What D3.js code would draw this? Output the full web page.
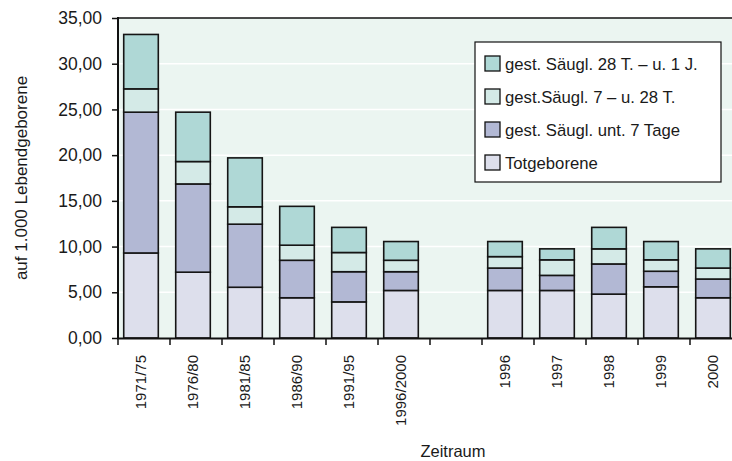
<!DOCTYPE html>
<html>
<head>
<meta charset="utf-8">
<script src="https://cdn.jsdelivr.net/npm/d3@7"></script>
<style>
  html, body { margin: 0; padding: 0; background: #ffffff; }
  svg { display: block; }
  text { font-family: "Liberation Sans", Arial, sans-serif; fill: #1a1a1a; }
</style>
</head>
<body>
<svg id="chart" width="732" height="461"></svg>
<script>
// ---- Data ----
const categories = ["1971/75", "1976/80", "1981/85", "1986/90", "1991/95", "1996/2000", "", "1996", "1997", "1998", "1999", "2000"];
const totgeborene   = [9.3, 7.2, 5.55, 4.4, 3.95, 5.2, null, 5.2, 5.2, 4.8, 5.6, 4.4];
const unter7Tage    = [15.4, 9.65, 6.9, 4.1, 3.3, 2.05, null, 2.45, 1.65, 3.3, 1.7, 2.05];
const tage7bis28    = [2.55, 2.45, 1.9, 1.65, 2.1, 1.25, null, 1.25, 1.7, 1.65, 1.25, 1.2];
const tage28bis1J   = [5.95, 5.4, 5.35, 4.25, 2.75, 2.05, null, 1.65, 1.2, 2.35, 2.0, 2.1];
const seriesNames   = ["Totgeborene", "gest. Säugl. unt. 7 Tage", "gest.Säugl. 7 – u. 28 T.", "gest. Säugl. 28 T. – u. 1 J."];
const seriesColors  = ["#dddfec", "#b2b8d4", "#d4eae7", "#afd8d6"];
const yTicks        = [0, 5, 10, 15, 20, 25, 30, 35];
const yTitle = "auf 1.000 Lebendgeborene";
const xTitle = "Zeitraum";

// ---- Build table ----
const keys = ["s0", "s1", "s2", "s3"];
const seriesData = [totgeborene, unter7Tage, tage7bis28, tage28bis1J];
const catKeys = categories.map((c, i) => c === "" ? "__gap" + i : c);
const table = catKeys.map((k, i) => {
  const row = { cat: k, label: categories[i], empty: totgeborene[i] == null };
  keys.forEach((s, j) => row[s] = seriesData[j][i] == null ? 0 : seriesData[j][i]);
  return row;
});
const stacked = d3.stack().keys(keys)(table);

// ---- Layout ----
const svg = d3.select("#chart");
const pLeft = 118, pRight = 742, pTop = 18, pBottom = 338;

const x = d3.scaleBand().domain(catKeys).range([pLeft, pRight]).padding(0);
const y = d3.scaleLinear().domain([0, 35]).range([pBottom, pTop]);
const bw = x.bandwidth();
const barOff = bw * 0.11, barW = bw * 0.665;

// plot background
svg.append("rect")
  .attr("x", pLeft).attr("y", pTop)
  .attr("width", pRight - pLeft).attr("height", pBottom - pTop)
  .attr("fill", "#ebf5f1");

// gridlines
svg.append("g").selectAll("line")
  .data(yTicks.filter(d => d > 0 && d < 35))
  .join("line")
  .attr("x1", pLeft).attr("x2", pRight)
  .attr("y1", d => y(d)).attr("y2", d => y(d))
  .attr("stroke", "#ffffff").attr("stroke-width", 1.5);

// top border
svg.append("line")
  .attr("x1", pLeft).attr("x2", pRight)
  .attr("y1", y(35)).attr("y2", y(35))
  .attr("stroke", "#111").attr("stroke-width", 1.5);

// bars
const gBars = svg.append("g");
stacked.forEach((layer, li) => {
  gBars.append("g").selectAll("rect")
    .data(layer.filter(d => !d.data.empty))
    .join("rect")
    .attr("x", d => x(d.data.cat) + barOff)
    .attr("width", barW)
    .attr("y", d => y(d[1]))
    .attr("height", d => y(d[0]) - y(d[1]))
    .attr("fill", seriesColors[li])
    .attr("stroke", "#151515")
    .attr("stroke-width", 1.6);
});

// y axis
const yAxis = d3.axisLeft(y)
  .tickValues(yTicks)
  .tickSize(6)
  .tickPadding(10)
  .tickFormat(d => d.toFixed(2).replace(".", ","));
const gy = svg.append("g").attr("transform", `translate(${pLeft},0)`).call(yAxis);
gy.select(".domain").remove();
gy.selectAll(".tick line").attr("stroke", "#111").attr("stroke-width", 1.5);
gy.selectAll(".tick text")
  .style("font-family", '"Liberation Sans", Arial, sans-serif')
  .style("font-size", "17.5px").attr("fill", "#1a1a1a");
svg.append("line")
  .attr("x1", pLeft).attr("x2", pLeft)
  .attr("y1", pTop - 1).attr("y2", pBottom + 1)
  .attr("stroke", "#111").attr("stroke-width", 2);

// x axis line
svg.append("line")
  .attr("x1", pLeft - 1).attr("x2", pRight)
  .attr("y1", pBottom + 0.5).attr("y2", pBottom + 0.5)
  .attr("stroke", "#111").attr("stroke-width", 2.2);

// x tick marks at band boundaries
svg.append("g").selectAll("line")
  .data(catKeys)
  .join("line")
  .attr("x1", d => x(d)).attr("x2", d => x(d))
  .attr("y1", pBottom).attr("y2", pBottom + 7)
  .attr("stroke", "#111").attr("stroke-width", 1.5);

// x tick labels (rotated)
svg.append("g").selectAll("text")
  .data(table.filter(d => d.label !== ""))
  .join("text")
  .attr("transform", d => `translate(${x(d.cat) + barOff + barW / 2 + 5},${pBottom + 17}) rotate(-90)`)
  .attr("text-anchor", "end")
  .style("font-size", "15px")
  .text(d => d.label);

// axis titles
svg.append("text")
  .attr("transform", `translate(27,178) rotate(-90)`)
  .attr("text-anchor", "middle")
  .style("font-size", "17px")
  .text(yTitle);

svg.append("text")
  .attr("x", 453).attr("y", 457)
  .attr("text-anchor", "middle")
  .style("font-size", "16.5px")
  .text(xTitle);

// legend
const legX = 475, legY = 42, legW = 246, legH = 140;
const gLeg = svg.append("g");
gLeg.append("rect")
  .attr("x", legX).attr("y", legY).attr("width", legW).attr("height", legH)
  .attr("fill", "#ffffff").attr("stroke", "#111").attr("stroke-width", 1.2);
const legendOrder = [3, 2, 1, 0];
const rowY = d3.scalePoint().domain(legendOrder).range([legY + 21.5, legY + 120.5]);
const items = gLeg.selectAll("g.item").data(legendOrder).join("g").attr("class", "item");
items.append("rect")
  .attr("x", legX + 10).attr("y", d => rowY(d) - 7.5)
  .attr("width", 15).attr("height", 15)
  .attr("fill", d => seriesColors[d])
  .attr("stroke", "#111").attr("stroke-width", 1.3);
items.append("text")
  .attr("x", legX + 30).attr("y", d => rowY(d) + 6)
  .style("font-size", "16.7px")
  .text(d => seriesNames[d]);
</script>
</body>
</html>
